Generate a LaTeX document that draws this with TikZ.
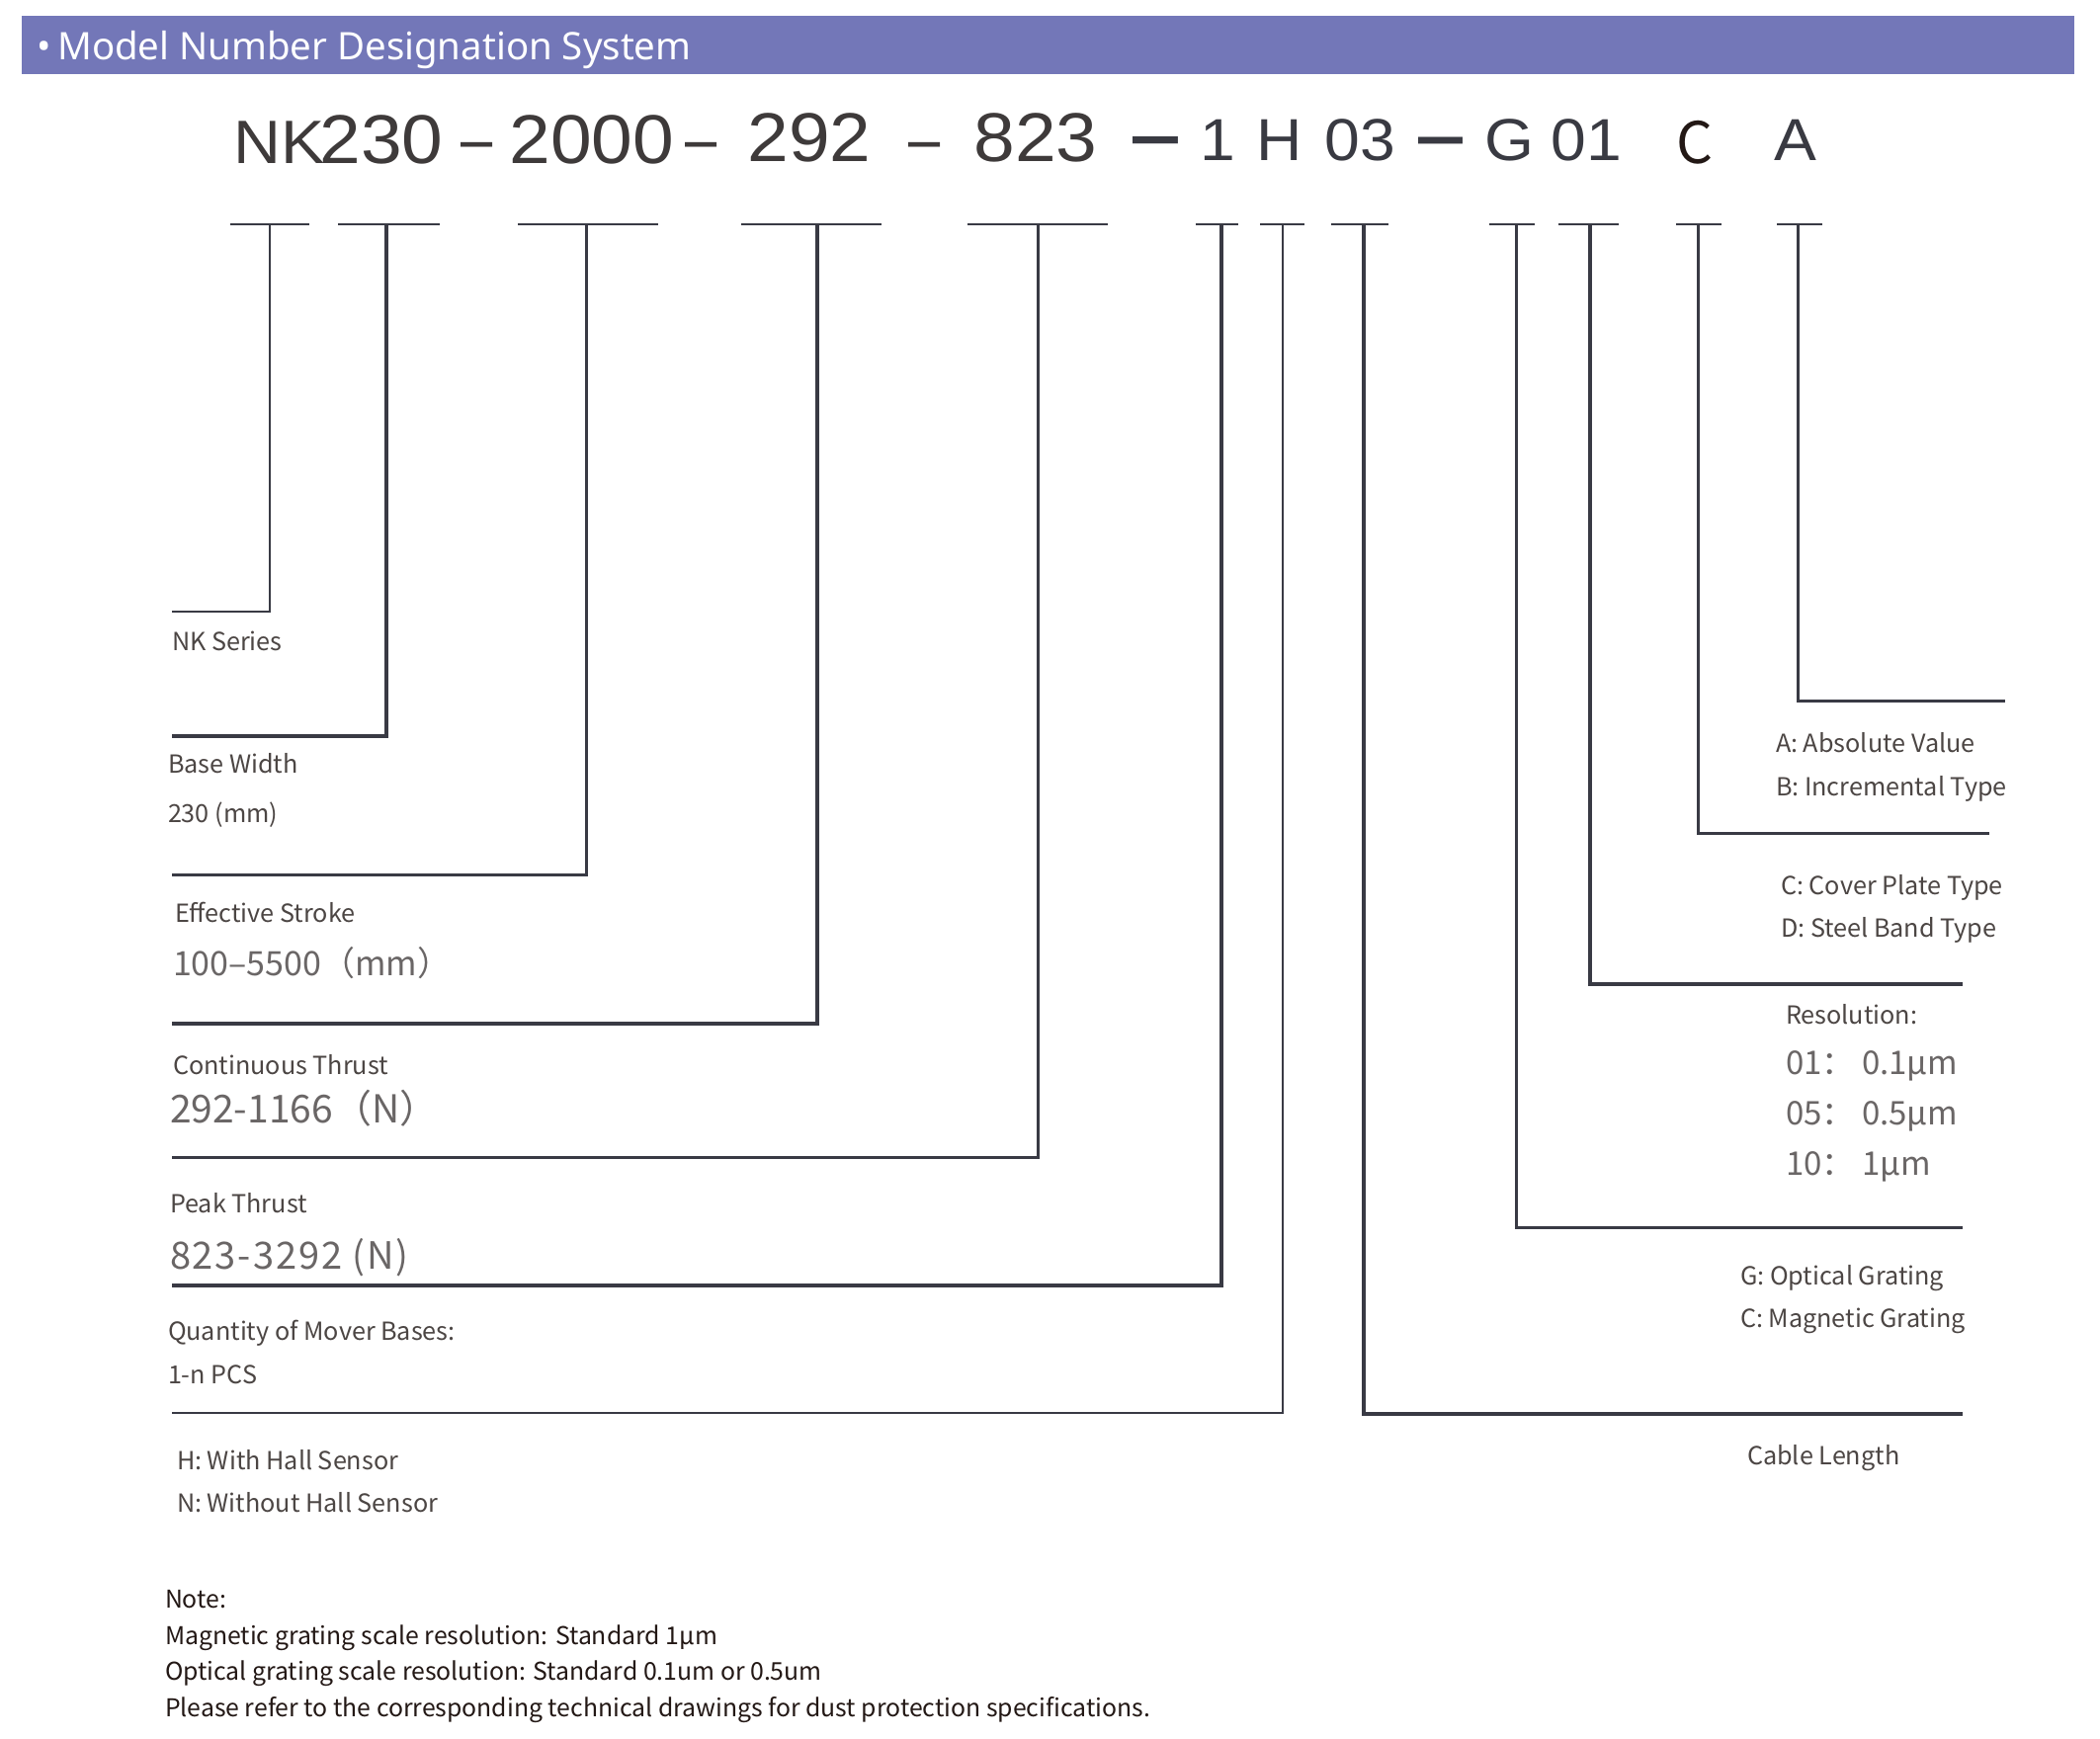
\documentclass[tikz,border=0pt]{standalone}
\usepackage{fontspec}
\setmainfont{Noto Sans CJK SC}
\newfontfamily\hdfont{Noto Sans}
\newfontfamily\bigfont[FakeStretch=1.07]{Liberation Sans}
\newfontfamily\valfont{Noto Sans CJK SC}
\newfontfamily\valsfont[LetterSpace=5]{Noto Sans CJK SC}
\definecolor{barc}{HTML}{7377B8}
\definecolor{lnc}{HTML}{393A44}
\definecolor{labc}{HTML}{4C4644}
\definecolor{valc}{HTML}{6A6666}
\definecolor{numc}{HTML}{3E3A3A}
\definecolor{numd}{HTML}{393A42}
\definecolor{blkc}{HTML}{231815}
\tikzset{
  lab/.style={anchor=base west, inner sep=0pt, outer sep=0pt, text=labc, font=\fontsize{12.6}{15}\selectfont},
  valtxt/.style={anchor=base west, inner sep=0pt, outer sep=0pt, text=valc, font=\valfont\fontsize{#1}{20}\selectfont},
  valsp/.style={anchor=base west, inner sep=0pt, outer sep=0pt, text=valc, font=\valsfont\fontsize{#1}{20}\selectfont},
  notetxt/.style={anchor=base west, inner sep=0pt, outer sep=0pt, text=blkc, font=\fontsize{12.4}{14}\selectfont},
  bignum/.style={anchor=base, inner sep=0pt, outer sep=0pt, text=numc, font=\bigfont\fontsize{35}{40}\selectfont},
  bigchr/.style={anchor=base, inner sep=0pt, outer sep=0pt, text=numd, font=\bigfont\fontsize{30}{34}\selectfont},
  dashtxt/.style={anchor=base, inner sep=0pt, outer sep=0pt, text=numd, font=\bigfont\fontsize{27}{30}\selectfont},
  tickbar/.style={draw=lnc, line width=1.3pt},
  thinln/.style={draw=lnc, line width=1pt},
  medln/.style={draw=lnc, line width=1.5pt},
  thickln/.style={draw=lnc, line width=2.25pt},
}
\begin{document}
\begin{tikzpicture}[x=0.5pt,y=-0.5pt]
\useasboundingbox (0,0) rectangle (2125,1760);
\fill[white] (0,0) rectangle (2125,1760);
% header
\fill[barc] (22,16) rectangle (2099,75);
\node[anchor=base west, inner sep=0pt, text=white, font=\hdfont\fontsize{19.2}{22}\selectfont] (hdr) at (37,61) {•\,Model Number Designation System};
% model number
\node[bigchr, text=numc, font=\bigfont\fontsize{31}{34}\selectfont] (nk) at (283,166) {NK};
\node[bignum] (m230) at (386,166) {230};
\node[dashtxt, text=numc] (d1) at (483,165) {\scalebox{1}[1.3]{–}};
\node[bignum] (m2000) at (599,166) {2000};
\node[dashtxt, text=numc] (d2) at (710,165) {\scalebox{1}[1.3]{–}};
\node[bignum] (m292) at (819,164) {292};
\node[dashtxt, text=numc] (d3) at (936,165) {\scalebox{1}[1.3]{–}};
\node[bignum] (m823) at (1048,164) {823};
\node[dashtxt] (d4) at (1169,170) {\scalebox{1.43}[2.0]{–}};
\node[bigchr] (m1) at (1232,163) {1};
\node[bigchr] (mH) at (1295,163) {H};
\node[bigchr] (m03) at (1376,163) {03};
\node[dashtxt] (d5) at (1458,169) {\scalebox{1.4}[1.9]{–}};
\node[bigchr] (mG) at (1527,163) {G};
\node[bigchr] (m01) at (1605,163) {01};
\node[bigchr, text=blkc, font=\fontsize{29}{32}\selectfont] (mC) at (1715,166) {C};
\node[bigchr] (mA) at (1817,163) {A};
% ticks and leader lines: id / bar left / bar right / vertical x / horizontal y / end x / style
\foreach \i/\bl/\br/\vx/\hy/\hx/\st in {
  1/233/313/273/619/174/thinln,
  2/342/445/391/745/174/thickln,
  3/524/666/593/885/174/medln,
  4/750/892/827/1036/174/thickln,
  5/979/1121/1050/1171/174/medln,
  6/1210/1253/1236/1301/174/thickln,
  7/1275/1320/1298/1430/174/thinln,
  8/1347/1405/1380/1431/1986/thickln,
  9/1507/1553/1534/1242/1986/medln,
  10/1577/1638/1609/996/1986/thickln,
  11/1696/1742/1718/843/2013/medln,
  12/1798/1844/1819/709/2029/medln}{
  \coordinate (bl\i) at (\bl,227);
  \coordinate (br\i) at (\br,227);
  \coordinate (t\i) at (\vx,227);
  \coordinate (k\i) at (\vx,\hy);
  \coordinate (e\i) at (\hx,\hy);
  \draw[tickbar] (bl\i) -- (br\i);
  \draw[\st] (t\i) -- (k\i) -- (e\i);
}
% left labels
\node[lab] (l1) at (174,658) {NK Series};
\node[lab] (l2) at (170,782) {Base Width};
\node[lab] (l2b) at (170,832) {230 (mm)};
\node[lab] (l3) at (177,933) {Effective Stroke};
\node[valtxt=17] (v3) at (175,987) {100–5500（mm）};
\node[lab] (l4) at (175,1087) {Continuous Thrust};
\node[valtxt=19.5] (v4) at (172,1136) {292-1166（N）};
\node[lab] (l5) at (172,1227) {Peak Thrust};
\node[valsp=19] (v5) at (172,1284) {823-3292 (N)};
\node[lab] (l6) at (170,1356) {Quantity of Mover Bases:};
\node[lab] (l6b) at (170,1400) {1-n PCS};
\node[lab] (l7) at (179,1487) {H: With Hall Sensor};
\node[lab] (l7b) at (179,1530) {N: Without Hall Sensor};
% right labels
\node[lab] (l12) at (1797,761) {A: Absolute Value};
\node[lab] (l12b) at (1797,805) {B: Incremental Type};
\node[lab] (l11) at (1802,905) {C: Cover Plate Type};
\node[lab] (l11b) at (1802,948) {D: Steel Band Type};
\node[lab] (l10) at (1807,1036) {Resolution:};
\node[valtxt=16.5] (v10a) at (1807,1087) {01： 0.1µm};
\node[valtxt=16.5] (v10b) at (1807,1138) {05： 0.5µm};
\node[valtxt=16.5] (v10c) at (1807,1189) {10： 1µm};
\node[lab] (l9) at (1761,1300) {G: Optical Grating};
\node[lab] (l9b) at (1761,1343) {C: Magnetic Grating};
\node[lab] (l8) at (1768,1482) {Cable Length};
% notes
\node[notetxt] (n1) at (167,1627) {Note:};
\node[notetxt] (n2) at (167,1664) {Magnetic grating scale resolution: Standard 1µm};
\node[notetxt] (n3) at (167,1700) {Optical grating scale resolution: Standard 0.1um or 0.5um};
\node[notetxt] (n4) at (167,1737) {Please refer to the corresponding technical drawings for dust protection specifications.};
\end{tikzpicture}
\end{document}
